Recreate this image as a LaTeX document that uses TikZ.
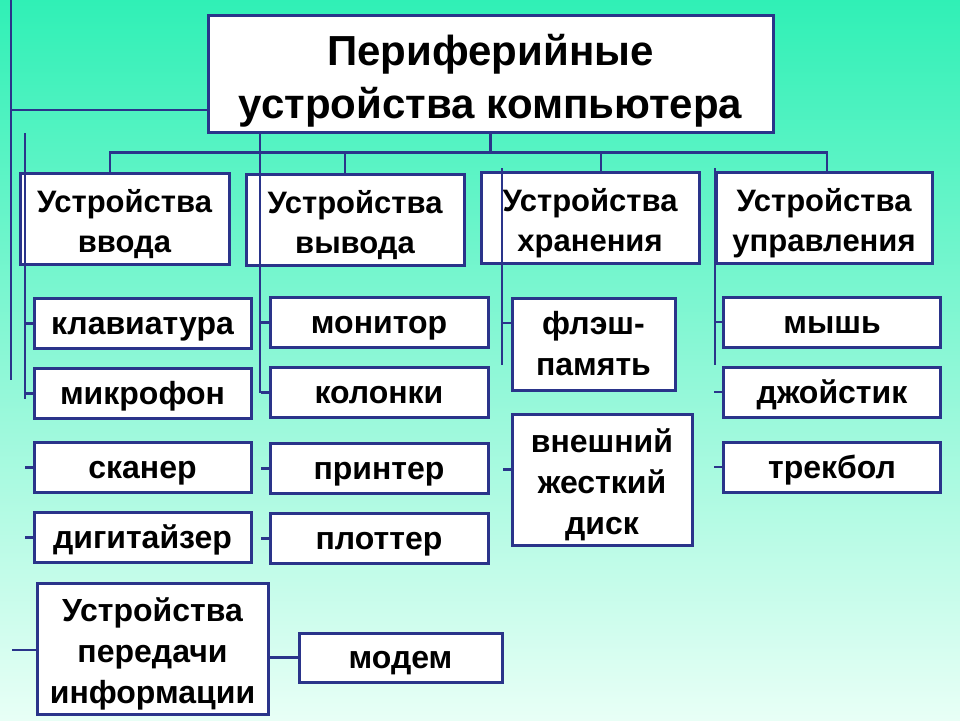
\documentclass[tikz,border=0pt]{standalone}
\usepackage{fontspec}
\setmainfont{Liberation Sans}
\usetikzlibrary{positioning, calc}
\definecolor{lineblue}{RGB}{42,52,138}
\definecolor{bgtop}{RGB}{48,240,182}
\definecolor{bgbot}{RGB}{232,255,246}
\newcommand{\ppstrut}{\rule[-0.212em]{0pt}{1.117em}}
\newcommand{\topstrut}{\rule{0pt}{1.088em}}

\begin{document}
\begin{tikzpicture}
            [x=1pt, y=-1pt, node distance=17pt,
            devbox/.style={rectangle, align=center, draw=lineblue, line width=3pt, fill=white,
              inner sep=0pt, execute at begin node=\ppstrut,
              font=\bfseries\fontsize{32}{41}\selectfont},
            headbox/.style={devbox, minimum height=91pt, font=\bfseries\fontsize{31}{40}\selectfont},
            itembox/.style={devbox, minimum width=217pt, minimum height=50pt},
            wire/.style={draw=lineblue, line width=2.8pt}]

            \useasboundingbox (0,0) rectangle (960,720);
            \shade[top color=bgtop, bottom color=bgbot] (0,0) rectangle (960,720);

            \node[devbox, minimum width=565pt, minimum height=117pt,
              font=\bfseries\fontsize{42}{53}\selectfont] (title) at (490.5,73.5)
              {\topstrut Периферийные\\устройства компьютера};

            \node[headbox, minimum width=209pt] (vvod) at (124.5,218.5) {\topstrut Устройства\\ввода};
            \node[headbox, minimum width=218pt] (vyvod) at (355,219.5) {\topstrut Устройства\\вывода};
            \node[headbox, minimum width=218pt] (hran) at (590,218) {\topstrut Устройства\\хранения};
            \node[headbox, minimum width=216pt] (upr) at (824,218) {\topstrut Устройства\\управления};

            % input devices
            \node[itembox] (klav) at (142.5,323.5) {клавиатура};
            \node[itembox] (mikr) [below = of klav] {микрофон};
            \node[itembox] (skan) [below = 21pt of mikr] {сканер};
            \node[itembox] (digi) [below = of skan] {дигитайзер};

            % output devices
            \node[itembox, minimum width=218pt] (moni) at (379,322.5) {монитор};
            \node[itembox, minimum width=218pt] (kolo) [below = of moni] {колонки};
            \node[itembox, minimum width=218pt] (prin) [below = 23pt of kolo] {принтер};
            \node[itembox, minimum width=218pt] (plot) [below = of prin] {плоттер};

            % storage devices
            \node[devbox, minimum width=163pt, minimum height=92pt] (flash) at (593.5,344) {\ppstrut флэш-\\память};
            \node[devbox, minimum width=180pt, minimum height=131pt] (disk)
              [below = 21pt of flash.south west, anchor=north west] {\topstrut внешний\\жесткий\\диск};

            % control devices
            \node[itembox] (mysh) at (832,322) {мышь};
            \node[itembox] (dzho) [below = of mysh] {джойстик};
            \node[itembox] (trek) [below = 22pt of dzho] {трекбол};

            % transfer devices
            \node[devbox, minimum width=231pt, minimum height=131pt] (pered) at (152.5,648.5)
              {\topstrut Устройства\\передачи\\информации};
            \node[itembox, minimum width=203pt, minimum height=49pt] (modem) at (400.5,657.5) {модем};

            % top bus
            \coordinate (bus) at ($(title.south)+(0,19)$);
            \draw[wire] (title.south) -- (bus);
            \draw[wire] ([xshift=-14.5pt]vvod.north) |- (bus) -| ([xshift=3pt]upr.north);
            \draw[wire] ([xshift=-10pt]vyvod.north) -- ([xshift=-10pt]vyvod.north |- bus);
            \draw[wire] ([xshift=11pt]hran.north) -- ([xshift=11pt]hran.north |- bus);

            % outer left line
            \coordinate (outtop) at (11,0);
            \coordinate (outend) at (11,380);
            \draw[wire] (outtop) -- (outend);
            \draw[wire] ([yshift=-36.5pt]title.west) -- ([yshift=-36.5pt]title.west -| outtop);
            \draw[wire] ([yshift=-1.5pt]pered.west) -- ++(-24,0);

            % column lines
            \coordinate (intop) at (25,133);
            \coordinate (inend) at (25,399);
            \draw[wire] (intop) -- (inend);
            \foreach \n in {klav, mikr, skan, digi}
              \draw[wire] (\n.west) -- ++(-8,0);

            \coordinate (vyvtop) at (260,133);
            \coordinate (vyvend) at (260,393);
            \draw[wire] (vyvtop) -- (vyvend);
            \foreach \n in {moni, kolo, prin, plot}
              \draw[wire] (\n.west) -- ++(-8,0);

            \coordinate (hrtop) at (502,168);
            \coordinate (hrend) at (502,365);
            \draw[wire] (hrtop) -- (hrend);
            \draw[wire] ([yshift=21pt]flash.west) -- ++(-8,0);
            \draw[wire] ([yshift=10pt]disk.west) -- ++(-8,0);

            \coordinate (uprtop) at (715,168);
            \coordinate (uprend) at (715,365);
            \draw[wire] (uprtop) -- (uprend);
            \foreach \n in {mysh, dzho, trek}
              \draw[wire] (\n.west) -- ++(-8,0);

            \draw[wire] (modem.west) -- (modem.west -| pered.east);

          \end{tikzpicture}
\end{document}
